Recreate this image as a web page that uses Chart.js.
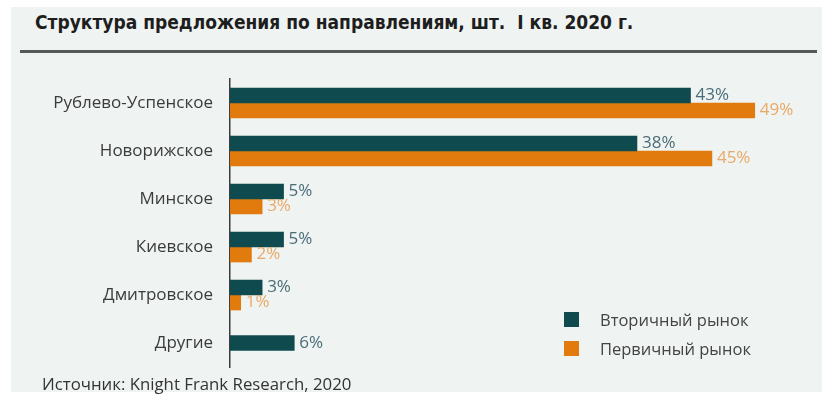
<!DOCTYPE html>
<html lang="ru">
<head>
<meta charset="utf-8">
<title>Структура предложения по направлениям</title>
<script src="https://cdn.jsdelivr.net/npm/chart.js@4.4.1/dist/chart.umd.min.js"></script>
<style>
    html, body {
        margin: 0;
        padding: 0;
        background: #ffffff;
        width: 830px;
        height: 405px;
        overflow: hidden;
        font-family: "Open Sans", "DejaVu Sans", sans-serif;
    }
    .panel {
        position: absolute;
        left: 11px;
        top: 7px;
        width: 811px;
        height: 385px;
        background: #eff3f1;
    }
    .titulo {
        position: absolute;
        left: 35px;
        top: 11px;
        font-family: "Liberation Sans Narrow", "DejaVu Sans Condensed", sans-serif;
        font-weight: bold;
        font-size: 19px;
        color: #1e1e1e;
        white-space: nowrap;
    }
    .regla {
        position: absolute;
        left: 20px;
        top: 50px;
        width: 797px;
        height: 3px;
        background: #555a58;
    }
    .chart-box {
        position: absolute;
        left: 0;
        top: 0;
        width: 830px;
        height: 405px;
    }
    .leyenda {
        position: absolute;
        left: 564px;
        top: 305px;
        font-size: 16.5px;
        color: #444444;
    }
    .leyenda-item {
        display: flex;
        align-items: center;
        height: 29px;
    }
    .leyenda-item span.cuadro {
        display: inline-block;
        width: 15px;
        height: 15px;
        margin-right: 21px;
    }
    .fuente {
        position: absolute;
        left: 42px;
        top: 372px;
        font-size: 16.8px;
        color: #333333;
        white-space: nowrap;
    }
</style>
</head>
<body>
<div class="panel"></div>
<div class="titulo">Структура предложения по направлениям, шт.&nbsp; I кв. 2020 г.</div>
<div class="regla"></div>
<div class="chart-box"><canvas id="graficaDirecciones" width="830" height="405"></canvas></div>
<div class="leyenda" id="leyenda"></div>
<div class="fuente">Источник: Knight Frank Research, 2020</div>

<script>
// Datos de la gráfica
const categorias = ['Рублево-Успенское', 'Новорижское', 'Минское', 'Киевское', 'Дмитровское', 'Другие'];
const вторичный = [43, 38, 5, 5, 3, 6];
const первичный = [49, 45, 3, 2, 1, null];
const nombresSeries = ['Вторичный рынок', 'Первичный рынок'];

const colorVerde = '#0e4a4e';
const colorNaranja = '#e27b0d';
const colorEtiquetaVerde = '#4a6d7a';
const colorEtiquetaNaranja = '#e9a968';

// Etiquetas de valor al final de cada barra
const etiquetasValor = {
    id: 'etiquetasValor',
    afterDatasetsDraw(chart) {
        const ctx = chart.ctx;
        ctx.save();
        ctx.font = '17px "Open Sans", sans-serif';
        ctx.textAlign = 'left';
        ctx.textBaseline = 'middle';
        chart.data.datasets.forEach((ds, i) => {
            const meta = chart.getDatasetMeta(i);
            ctx.fillStyle = i === 0 ? colorEtiquetaVerde : colorEtiquetaNaranja;
            meta.data.forEach((bar, j) => {
                const v = ds.data[j];
                if (v === null || v === undefined) return;
                ctx.fillText(v + '%', bar.x + 5, bar.y);
            });
        });
        ctx.restore();
    }
};

const ctx = document.getElementById('graficaDirecciones').getContext('2d');
const chartInstance = new Chart(ctx, {
    type: 'bar',
    data: {
        labels: categorias,
        datasets: [{
            label: nombresSeries[0],
            data: вторичный,
            backgroundColor: colorVerde,
            barThickness: 15,
            skipNull: true
        }, {
            label: nombresSeries[1],
            data: первичный,
            backgroundColor: colorNaranja,
            barThickness: 15,
            skipNull: true
        }]
    },
    options: {
        indexAxis: 'y',
        responsive: false,
        animation: false,
        layout: {
            padding: { top: 79, bottom: 38, left: 0, right: 11 }
        },
        plugins: {
            legend: { display: false },
            tooltip: { enabled: false },
            title: { display: false }
        },
        scales: {
            x: {
                display: false,
                min: 0,
                max: 55
            },
            y: {
                afterFit(scale) {
                    scale.width = 230;
                },
                grid: {
                    display: false,
                    drawTicks: false
                },
                border: {
                    display: true,
                    color: '#3c3c3c',
                    width: 1.5
                },
                ticks: {
                    color: '#3b3b3b',
                    padding: 17,
                    font: {
                        family: '"Open Sans", sans-serif',
                        size: 17
                    }
                }
            }
        }
    },
    plugins: [etiquetasValor]
});

// Leyenda en HTML
const leyenda = document.getElementById('leyenda');
chartInstance.data.datasets.forEach(ds => {
    const item = document.createElement('div');
    item.className = 'leyenda-item';
    item.innerHTML = `<span class="cuadro" style="background:${ds.backgroundColor}"></span><span>${ds.label}</span>`;
    leyenda.appendChild(item);
});
</script>
</body>
</html>
